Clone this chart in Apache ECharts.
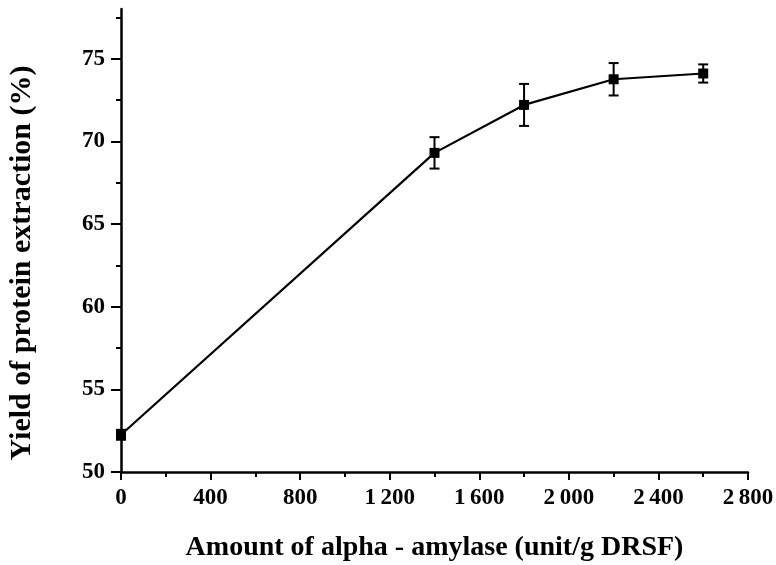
<!DOCTYPE html>
<html>
<head>
<meta charset="utf-8">
<script src="https://cdn.jsdelivr.net/npm/echarts@6/dist/echarts.min.js"></script>
<style>html,body{margin:0;padding:0;background:#fff;}#c{width:776px;height:565px;}</style>
</head>
<body>
<div id="c"></div>
<script>
// Data
const amylase = [0, 1400, 1800, 2200, 2600];
const yieldPct = [52.25, 69.3, 72.2, 73.75, 74.1];
const yieldErr = [0.3, 0.95, 1.27, 0.98, 0.55];
const yMajorTicks = [50, 55, 60, 65, 70, 75];
const yMinorTicks = [52.5, 57.5, 62.5, 67.5, 72.5, 77.5];
const xTitle = 'Amount of alpha - amylase (unit/g DRSF)';
const yTitle = 'Yield of protein extraction (%)';

const FONT = '"Liberation Serif", "Times New Roman", serif';
const chart = echarts.init(document.getElementById('c'), null, {renderer: 'canvas'});

const errData = amylase.map((x, i) => [x, yieldPct[i] - yieldErr[i], yieldPct[i] + yieldErr[i]]);
const lineData = amylase.map((x, i) => [x, yieldPct[i]]);

function fmtThousands(v) {
  const s = String(v);
  return s.length > 3 ? s.slice(0, s.length - 3) + '\u2009' + s.slice(s.length - 3) : s;
}

chart.setOption({
  animation: false,
  backgroundColor: '#fff',
  grid: {left: 121, right: 28, top: 9, bottom: 93, containLabel: false, outerBoundsMode: 'none'},
  xAxis: {
    type: 'value', min: 0, max: 2800, interval: 400,
    name: xTitle, nameLocation: 'middle', nameGap: 62,
    nameTextStyle: {fontFamily: FONT, fontWeight: 'bold', fontSize: 28, color: '#000'},
    axisLine: {show: true, onZero: false, lineStyle: {color: '#000', width: 2.5}},
    axisTick: {show: true, inside: false, length: 8, lineStyle: {color: '#000', width: 2}},
    minorTick: {show: true, splitNumber: 2, length: 5, lineStyle: {color: '#000', width: 2}},
    axisLabel: {fontFamily: FONT, fontWeight: 'bold', fontSize: 23, color: '#000', margin: 15, formatter: fmtThousands},
    splitLine: {show: false}
  },
  yAxis: [{
    type: 'value', min: 50, max: 78, interval: 5, position: 'left',
    axisLine: {show: true, onZero: false, lineStyle: {color: '#000', width: 2.5}},
    axisTick: {show: true, inside: false, length: 10, customValues: yMajorTicks, lineStyle: {color: '#000', width: 2}},
    axisLabel: {fontFamily: FONT, fontWeight: 'bold', fontSize: 23, color: '#000', margin: 16, customValues: yMajorTicks},
    splitLine: {show: false}
  }, {
    type: 'value', min: 50, max: 78, interval: 5, position: 'left', offset: 0,
    axisLine: {show: false},
    axisTick: {show: true, inside: false, length: 5, customValues: yMinorTicks, lineStyle: {color: '#000', width: 2}},
    axisLabel: {show: false},
    splitLine: {show: false}
  }],
  graphic: [{
    type: 'text',
    rotation: Math.PI / 2,
    x: 22, y: 263,
    style: {text: yTitle, font: 'bold 30px ' + FONT, fill: '#000', textAlign: 'center', textVerticalAlign: 'middle'}
  }],
  series: [{
    type: 'line', data: lineData, yAxisIndex: 0,
    symbol: 'rect', symbolSize: 10, showSymbol: true,
    lineStyle: {color: '#000', width: 2.2},
    itemStyle: {color: '#000'},
    clip: false, z: 3
  }, {
    type: 'custom', data: errData, yAxisIndex: 0, z: 4, clip: false,
    renderItem: function (params, api) {
      const x = api.value(0);
      const lo = api.coord([x, api.value(1)]);
      const hi = api.coord([x, api.value(2)]);
      const hw = 5;
      const st = {stroke: '#000', lineWidth: 2};
      return {type: 'group', children: [
        {type: 'line', shape: {x1: lo[0], y1: lo[1], x2: hi[0], y2: hi[1]}, style: st},
        {type: 'line', shape: {x1: lo[0] - hw, y1: lo[1], x2: lo[0] + hw, y2: lo[1]}, style: st},
        {type: 'line', shape: {x1: hi[0] - hw, y1: hi[1], x2: hi[0] + hw, y2: hi[1]}, style: st}
      ]};
    }
  }]
});
</script>
</body>
</html>
